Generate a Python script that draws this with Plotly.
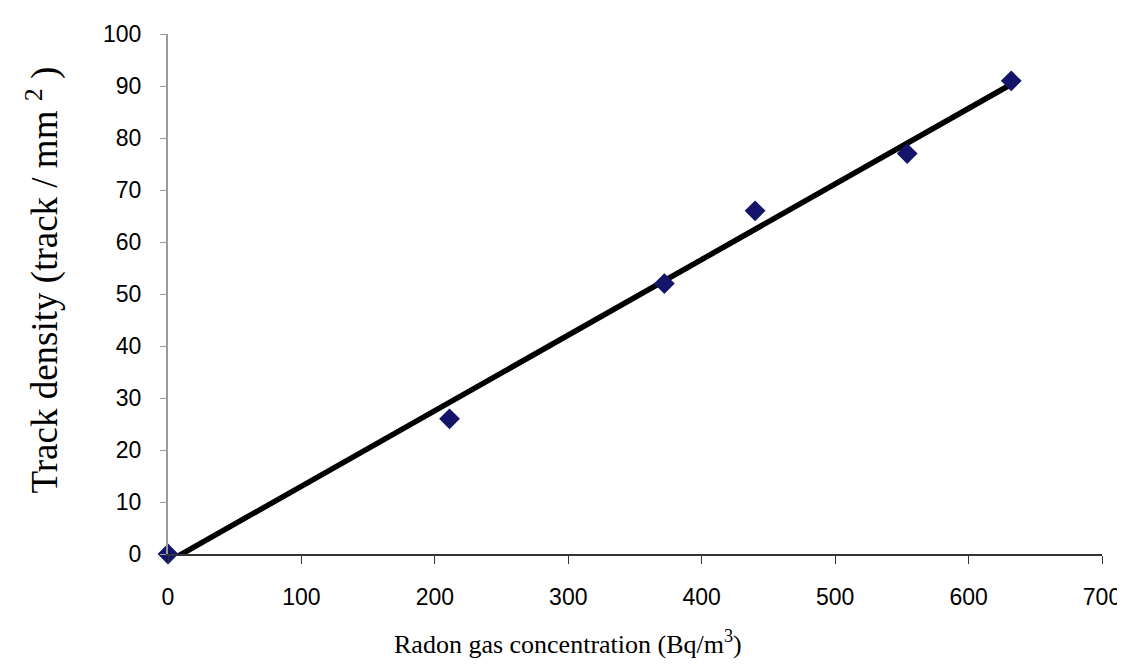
import numpy as np
import plotly.graph_objects as go

# Data
radon_conc = [0, 211, 372, 440, 554, 632]      # Bq/m^3
track_density = [0, 26, 52, 66, 77, 91]        # track / mm^2

x_ticks = [0, 100, 200, 300, 400, 500, 600, 700]
y_ticks = [0, 10, 20, 30, 40, 50, 60, 70, 80, 90, 100]

# Linear trendline (least squares) spanning the data range
slope, intercept = np.polyfit(radon_conc, track_density, 1)
trend_x = [min(radon_conc), max(radon_conc)]
trend_y = [slope * v + intercept for v in trend_x]

L, R, T, B = 160, 27, 26, 118
W, H = 1125, 664
pw, ph = W - L - R, H - T - B


def px_to_paper(px, py):
    return (px - L) / pw, 1 - (py - T) / ph


fig = go.Figure()
fig.add_trace(go.Scatter(
    x=trend_x, y=trend_y, mode="lines",
    line=dict(color="black", width=5.5),
    showlegend=False, hoverinfo="skip"))
fig.add_trace(go.Scatter(
    x=radon_conc, y=track_density, mode="markers",
    marker=dict(symbol="diamond", size=16, color="#14146a"),
    showlegend=False, cliponaxis=False))

xt_x, xt_y = px_to_paper(562, 634)
yt_x, yt_y = px_to_paper(34, 272)

fig.update_layout(
    width=W, height=H,
    margin=dict(l=L, r=R, t=T, b=B),
    paper_bgcolor="white", plot_bgcolor="white",
    font=dict(family="Liberation Sans, Arial", size=22, color="black"),
    xaxis=dict(
        range=[0, 700], tickvals=x_ticks, ticktext=[str(v) for v in x_ticks],
        showgrid=False, zeroline=False,
        showline=True, linecolor="#333333", linewidth=1.5,
        ticks="outside", ticklen=8, tickcolor="#333333", tickwidth=1.2,
        ticklabelstandoff=14,
        tickfont=dict(family="Liberation Sans, Arial", size=23),
    ),
    yaxis=dict(
        range=[0, 100], tickvals=y_ticks, ticktext=[str(v) for v in y_ticks],
        showgrid=False, zeroline=False,
        showline=True, linecolor="#9a9a9a", linewidth=2,
        ticks="outside", ticklen=6, tickcolor="#9a9a9a", tickwidth=1.2,
        ticklabelstandoff=14,
        tickfont=dict(family="Liberation Sans, Arial", size=23),
    ),
    annotations=[
        dict(text="Radon gas concentration (Bq/m<sup>3</sup>)",
             x=xt_x, xref="paper", y=xt_y, yref="paper",
             showarrow=False, xanchor="center", yanchor="middle",
             font=dict(family="Liberation Serif, Times New Roman", size=26)),
        dict(text="Track density (track / mm <sup>2</sup> )",
             x=yt_x, xref="paper", y=yt_y, yref="paper",
             showarrow=False, textangle=-90,
             xanchor="center", yanchor="middle",
             font=dict(family="Liberation Serif, Times New Roman", size=37)),
    ],
)

fig.write_html("out.html")
